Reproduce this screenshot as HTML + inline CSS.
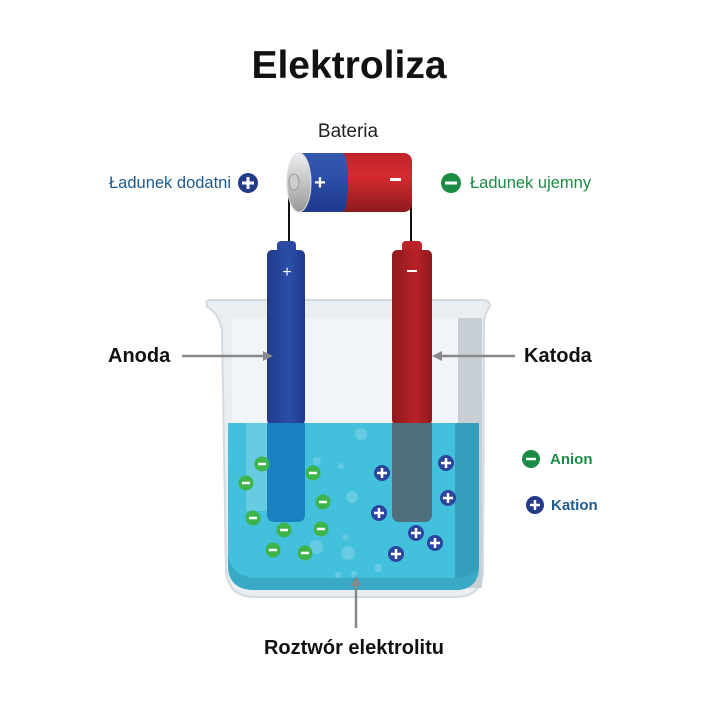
<!DOCTYPE html>
<html><head><meta charset="utf-8"><style>
body{margin:0;background:#fff;}
svg{display:block;font-family:"Liberation Sans",sans-serif;}
</style></head><body>
<svg width="720" height="720" viewBox="0 0 720 720" xmlns="http://www.w3.org/2000/svg">
<defs>
<linearGradient id="bl" x1="0" x2="1"><stop offset="0" stop-color="#233a8a"/><stop offset="0.6" stop-color="#2a4fa8"/><stop offset="1" stop-color="#1f3a8e"/></linearGradient>
<linearGradient id="rd" x1="0" x2="1"><stop offset="0" stop-color="#8e1a1e"/><stop offset="0.6" stop-color="#b82228"/><stop offset="1" stop-color="#8e1a1e"/></linearGradient>
<linearGradient id="rdv" x1="0" y1="0" x2="0" y2="1"><stop offset="0" stop-color="#c0242a"/><stop offset="0.4" stop-color="#d42a2f"/><stop offset="1" stop-color="#8e1a1e"/></linearGradient>
<linearGradient id="blv" x1="0" y1="0" x2="0" y2="1"><stop offset="0" stop-color="#3558b0"/><stop offset="0.4" stop-color="#2d4fa8"/><stop offset="1" stop-color="#1f3a8e"/></linearGradient>
<linearGradient id="sv" x1="0" y1="0" x2="0" y2="1"><stop offset="0" stop-color="#eee"/><stop offset="1" stop-color="#999"/></linearGradient>
</defs>
<text x="349" y="78" text-anchor="middle" font-size="39" font-weight="bold" fill="#111">Elektroliza</text>
<text x="348" y="137" text-anchor="middle" font-size="19" fill="#222">Bateria</text>
<path d="M289 185 V244 M411 185 V244" stroke="#111" stroke-width="2" fill="none"/>
<rect x="330" y="153" width="82" height="59" rx="8" fill="url(#rdv)"/>
<rect x="298" y="153" width="45" height="59" fill="url(#blv)"/>
<ellipse cx="343" cy="182.5" rx="5" ry="29.5" fill="url(#blv)"/>
<ellipse cx="299" cy="182.5" rx="12" ry="29.5" fill="url(#sv)" stroke="#ddd"/>
<ellipse cx="294" cy="182" rx="5" ry="8" fill="#ccc" stroke="#999"/>
<text x="320" y="189" text-anchor="middle" font-size="20" font-weight="bold" fill="#fff">+</text>
<rect x="390" y="178" width="11" height="3" fill="#fff"/>
<text x="109" y="188" font-size="16.5" fill="#1e5b8e">Ładunek dodatni</text>
<circle cx="248" cy="183" r="10" fill="#253b8a"/><path d="M242 183h12M248 177v12" stroke="#fff" stroke-width="3"/>
<circle cx="451" cy="183" r="10" fill="#1c8b44"/><path d="M445 183h12" stroke="#fff" stroke-width="3"/>
<text x="470" y="188" font-size="16.5" fill="#1c8b44">Ładunek ujemny</text>
<path d="M210 300 Q205 300 207 307 Q218 312 222 330 L226 570 Q228 597 255 597 L455 597 Q483 597 483 570 L484 320 Q486 312 490 306 Q490 300 483 300 Z" fill="#e9eef2" stroke="#d3dae0" stroke-width="2"/>
<rect x="458" y="318" width="24" height="270" fill="#c7cfd5"/>
<rect x="232" y="318" width="226" height="110" fill="#f1f5f9"/>
<path d="M228 423 H479 V565 Q479 590 455 590 H255 Q228 590 228 565 Z" fill="#42c0dc"/>
<path d="M455 423 H479 V565 Q479 590 455 590 Z" fill="#359fbb"/>
<path d="M228 555 Q232 578 258 578 H455 Q470 578 479 568 V565 Q479 590 455 590 H255 Q228 590 228 565Z" fill="#39a9c6"/>
<rect x="246" y="423" width="22" height="88" fill="#7fd3e6" opacity="0.6"/>
<g fill="#7fd3e6" opacity="0.6">
<circle cx="361" cy="434" r="6"/><circle cx="317" cy="461" r="4"/><circle cx="341" cy="466" r="3"/><circle cx="352" cy="497" r="6"/><circle cx="345" cy="537" r="3"/><circle cx="316" cy="547" r="7"/><circle cx="348" cy="553" r="7"/><circle cx="378" cy="568" r="4"/><circle cx="338" cy="575" r="3"/><circle cx="354" cy="574" r="3"/></g>
<rect x="277" y="241" width="19" height="14" rx="4" fill="#2a4aa6"/>
<rect x="267" y="250" width="38" height="175" rx="5" fill="url(#bl)"/>
<path d="M267 423 H305 V514 Q305 522 297 522 H275 Q267 522 267 514Z" fill="#1a80c0"/>
<text x="287" y="277" text-anchor="middle" font-size="16" fill="#fff">+</text>
<rect x="402" y="241" width="20" height="14" rx="4" fill="#b82228"/>
<rect x="392" y="250" width="40" height="175" rx="5" fill="url(#rd)"/>
<path d="M392 423 H432 V514 Q432 522 424 522 H400 Q392 522 392 514Z" fill="#4f6e7e"/>
<rect x="407" y="270" width="10" height="2" fill="#fff"/>
<g stroke="#888" stroke-width="2.5" fill="#888">
<path d="M182 356 H265"/><path d="M273 356 l-10 -5 v10z" stroke="none"/>
<path d="M515 356 H440"/><path d="M432 356 l10 -5 v10z" stroke="none"/>
<path d="M356 628 V584"/><path d="M356 576 l-5 10 h10z" stroke="none"/>
</g>
<text x="108" y="362" font-size="20" font-weight="bold" fill="#111">Anoda</text>
<text x="524" y="362" font-size="20" font-weight="bold" fill="#111">Katoda</text>
<text x="354" y="654" text-anchor="middle" font-size="20" font-weight="bold" fill="#111">Roztwór elektrolitu</text>
<g fill="#3db54a">
<circle cx="262" cy="464" r="7.5"/><circle cx="246" cy="483" r="7.5"/><circle cx="313" cy="473" r="7.5"/><circle cx="323" cy="502" r="7.5"/><circle cx="253" cy="518" r="7.5"/><circle cx="284" cy="530" r="7.5"/><circle cx="321" cy="529" r="7.5"/><circle cx="273" cy="550" r="7.5"/><circle cx="305" cy="553" r="7.5"/></g>
<g stroke="#fff" stroke-width="2.5">
<path d="M258 464h8M242 483h8M309 473h8M319 502h8M249 518h8M280 530h8M317 529h8M269 550h8M301 553h8"/></g>
<g fill="#2c46a0">
<circle cx="382" cy="473" r="8"/><circle cx="446" cy="463" r="8"/><circle cx="448" cy="498" r="8"/><circle cx="379" cy="513" r="8"/><circle cx="416" cy="533" r="8"/><circle cx="396" cy="554" r="8"/><circle cx="435" cy="543" r="8"/></g>
<g stroke="#fff" stroke-width="2.5">
<path d="M377 473h10M382 468v10M441 463h10M446 458v10M443 498h10M448 493v10M374 513h10M379 508v10M411 533h10M416 528v10M391 554h10M396 549v10M430 543h10M435 538v10"/></g>
<circle cx="531" cy="459" r="9" fill="#1c8b44"/><path d="M526 459h10" stroke="#fff" stroke-width="2.5"/>
<text x="550" y="464" font-size="15" font-weight="bold" fill="#1c8b44">Anion</text>
<circle cx="535" cy="505" r="9" fill="#253b8a"/><path d="M530 505h10M535 500v10" stroke="#fff" stroke-width="2.5"/>
<text x="551" y="510" font-size="15" font-weight="bold" fill="#1e5b8e">Kation</text>
</svg>
</body></html>
